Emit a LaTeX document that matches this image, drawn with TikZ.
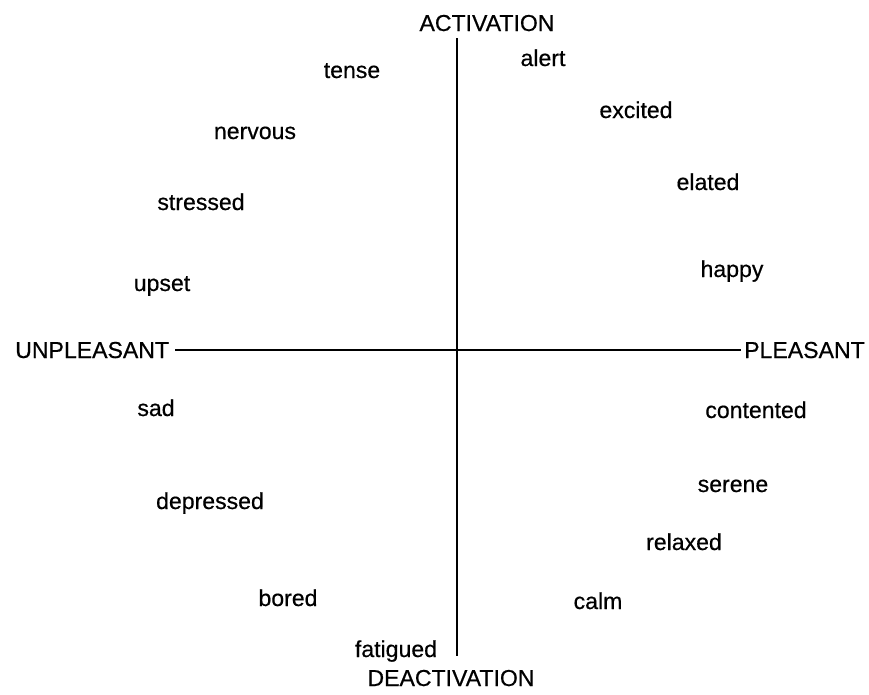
\documentclass[tikz,border=0pt]{standalone}
\usepackage{fontspec}
\newfontfamily\lblfont[FakeBold=0.5]{Liberation Sans}
\begin{document}
\begin{tikzpicture}[x=0.75pt,y=-0.75pt,
  lbl/.style={anchor=base,inner sep=0pt,font=\lblfont\fontsize{17.3}{20}\selectfont},
  axis/.style={line width=1.5pt,black}]
\useasboundingbox (0,0) rectangle (869,694);
\node[lbl] (act) at (487,31) {ACTIVATION};
\node[lbl] (deact) at (451,686) {DEACTIVATION};
\node[lbl,anchor=base west] (unp) at (15,358) {UNPLEASANT};
\node[lbl,anchor=base east] (ple) at (865,358) {PLEASANT};
\coordinate (vt) at (457,38);
\coordinate (vb) at (457,656);
\coordinate (hl) at (175,350);
\coordinate (hr) at (741,350);
\draw[axis] (vt) -- (vb);
\draw[axis] (hl) -- (hr);
\node[lbl] (tense) at (352,78) {tense};
\node[lbl] (alert) at (543,66) {alert};
\node[lbl] (nervous) at (255,139) {nervous};
\node[lbl] (excited) at (636,118) {excited};
\node[lbl] (stressed) at (201,210) {stressed};
\node[lbl] (elated) at (708,190) {elated};
\node[lbl] (upset) at (162,291) {upset};
\node[lbl] (happy) at (732,277) {happy};
\node[lbl] (sad) at (156,416) {sad};
\node[lbl] (contented) at (756,418) {contented};
\node[lbl] (depressed) at (210,509) {depressed};
\node[lbl] (serene) at (733,492) {serene};
\node[lbl] (relaxed) at (684,550) {relaxed};
\node[lbl] (bored) at (288,606) {bored};
\node[lbl] (calm) at (598,609) {calm};
\node[lbl] (fatigued) at (396,657) {fatigued};
\end{tikzpicture}
\end{document}
